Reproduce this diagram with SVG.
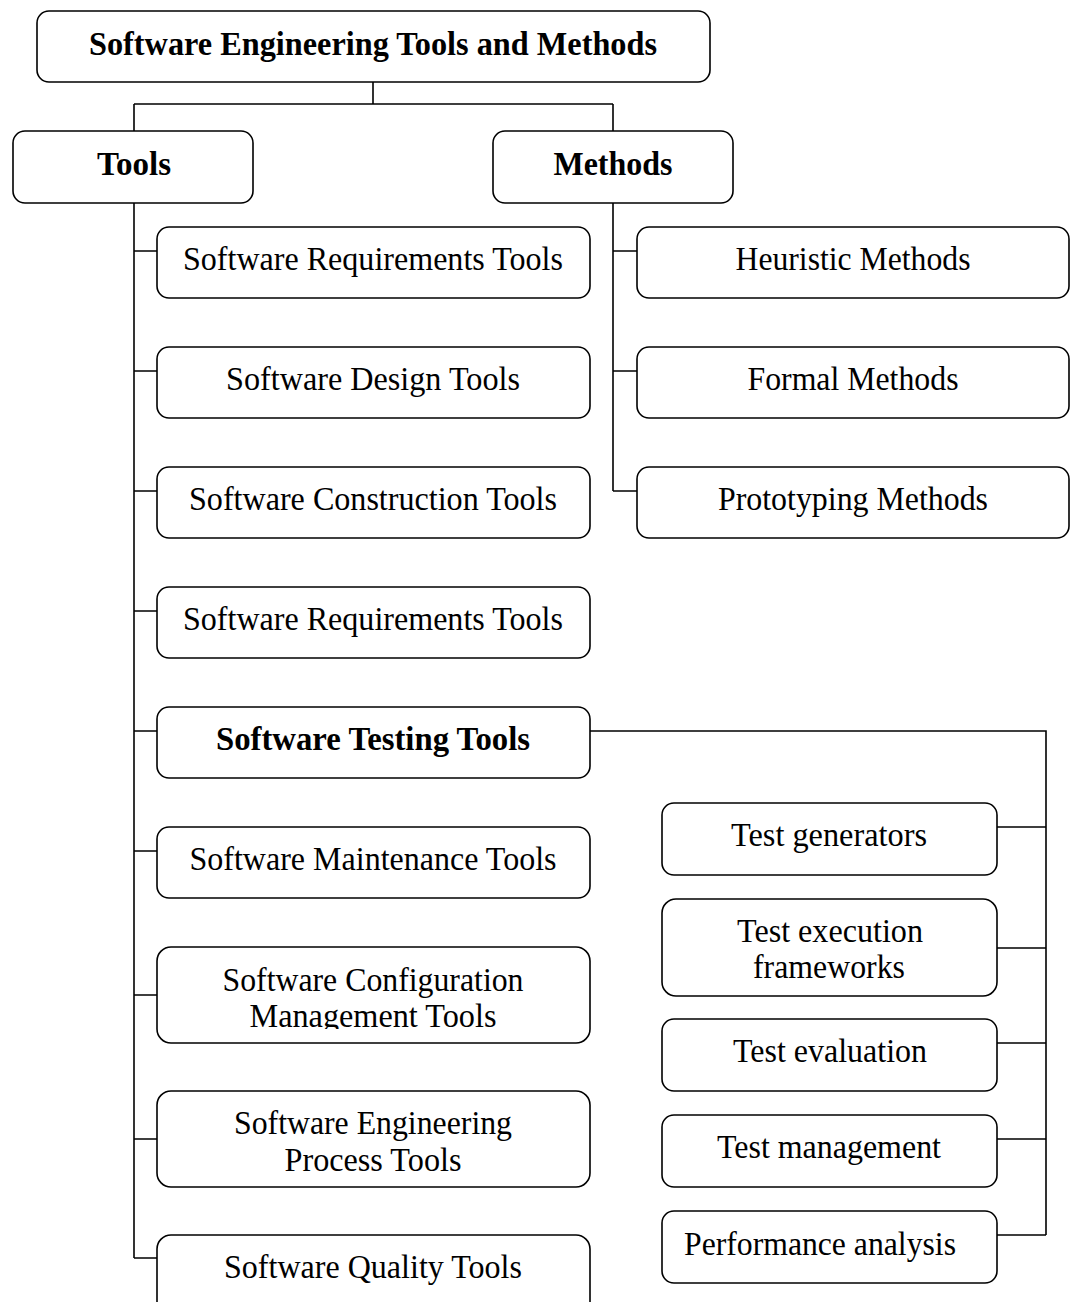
<svg xmlns="http://www.w3.org/2000/svg" width="1071" height="1302" viewBox="0 0 1071 1302">
  <style>
    .box { fill: #ffffff; stroke: #000000; stroke-width: 1.6; }
    .wire { fill: none; stroke: #000000; stroke-width: 1.6; }
    text { font-family: "Liberation Serif", "Times New Roman", serif; font-size: 34px; fill: #000000; text-anchor: middle; }
    .b { font-weight: bold; }
  </style>
  <defs>
    <clipPath id="cfgClip"><rect x="150" y="940" width="450" height="89"/></clipPath>
  </defs>

  <!-- connectors -->
  <g id="connectors" class="wire">
    <path d="M373,82 V104 M134,104 H613 M134,104 V131 M613,104 V131"/>
    <path d="M134,203 V1258"/>
    <path d="M134,251 H157 M134,371 H157 M134,491 H157 M134,611 H157 M134,731 H157 M134,851 H157 M134,995 H157 M134,1139 H157 M134,1258 H157"/>
    <path d="M613,203 V491 M613,251 H637 M613,371 H637 M613,491 H637"/>
    <path d="M590,731 H1046 V1235"/>
    <path d="M997,827 H1046 M997,948 H1046 M997,1043 H1046 M997,1139 H1046 M997,1235 H1046"/>
  </g>

  <!-- root -->
  <g id="root">
    <rect class="box" x="37" y="11" width="673" height="71" rx="12"/>
    <text class="b" x="373" y="55" textLength="568" lengthAdjust="spacingAndGlyphs">Software Engineering Tools and Methods</text>
  </g>

  <g id="tools">
    <rect class="box" x="13" y="131" width="240" height="72" rx="12"/>
    <text class="b" x="134" y="175" textLength="74" lengthAdjust="spacingAndGlyphs">Tools</text>
  </g>
  <g id="methods">
    <rect class="box" x="493" y="131" width="240" height="72" rx="12"/>
    <text class="b" x="613" y="175" textLength="119" lengthAdjust="spacingAndGlyphs">Methods</text>
  </g>

  <!-- tool categories -->
  <g id="req-tools">
    <rect class="box" x="157" y="227" width="433" height="71" rx="12"/>
    <text x="373" y="270" textLength="380" lengthAdjust="spacingAndGlyphs">Software Requirements Tools</text>
  </g>
  <g id="design-tools">
    <rect class="box" x="157" y="347" width="433" height="71" rx="12"/>
    <text x="373" y="390" textLength="294" lengthAdjust="spacingAndGlyphs">Software Design Tools</text>
  </g>
  <g id="construction-tools">
    <rect class="box" x="157" y="467" width="433" height="71" rx="12"/>
    <text x="373" y="510" textLength="368" lengthAdjust="spacingAndGlyphs">Software Construction Tools</text>
  </g>
  <g id="req-tools-2">
    <rect class="box" x="157" y="587" width="433" height="71" rx="12"/>
    <text x="373" y="630" textLength="380" lengthAdjust="spacingAndGlyphs">Software Requirements Tools</text>
  </g>
  <g id="testing-tools">
    <rect class="box" x="157" y="707" width="433" height="71" rx="12"/>
    <text class="b" x="373" y="750" textLength="314" lengthAdjust="spacingAndGlyphs">Software Testing Tools</text>
  </g>
  <g id="maintenance-tools">
    <rect class="box" x="157" y="827" width="433" height="71" rx="12"/>
    <text x="373" y="870" textLength="367" lengthAdjust="spacingAndGlyphs">Software Maintenance Tools</text>
  </g>
  <g id="config-tools">
    <rect class="box" x="157" y="947" width="433" height="96" rx="14"/>
    <g clip-path="url(#cfgClip)">
      <text x="373" y="991" textLength="301" lengthAdjust="spacingAndGlyphs">Software Configuration</text>
      <text x="373" y="1027" textLength="247" lengthAdjust="spacingAndGlyphs">Management Tools</text>
    </g>
  </g>
  <g id="process-tools">
    <rect class="box" x="157" y="1091" width="433" height="96" rx="14"/>
    <text x="373" y="1134" textLength="278" lengthAdjust="spacingAndGlyphs">Software Engineering</text>
    <text x="373" y="1171" textLength="177" lengthAdjust="spacingAndGlyphs">Process Tools</text>
  </g>
  <g id="quality-tools">
    <rect class="box" x="157" y="1235" width="433" height="90" rx="14"/>
    <text x="373" y="1278" textLength="298" lengthAdjust="spacingAndGlyphs">Software Quality Tools</text>
  </g>

  <!-- method categories -->
  <g id="heuristic">
    <rect class="box" x="637" y="227" width="432" height="71" rx="12"/>
    <text x="853" y="270" textLength="235" lengthAdjust="spacingAndGlyphs">Heuristic Methods</text>
  </g>
  <g id="formal">
    <rect class="box" x="637" y="347" width="432" height="71" rx="12"/>
    <text x="853" y="390" textLength="211" lengthAdjust="spacingAndGlyphs">Formal Methods</text>
  </g>
  <g id="prototyping">
    <rect class="box" x="637" y="467" width="432" height="71" rx="12"/>
    <text x="853" y="510" textLength="270" lengthAdjust="spacingAndGlyphs">Prototyping Methods</text>
  </g>

  <!-- testing tool kinds -->
  <g id="test-generators">
    <rect class="box" x="662" y="803" width="335" height="72" rx="12"/>
    <text x="829" y="846" textLength="196" lengthAdjust="spacingAndGlyphs">Test generators</text>
  </g>
  <g id="test-execution">
    <rect class="box" x="662" y="899" width="335" height="97" rx="14"/>
    <text x="830" y="942" textLength="186" lengthAdjust="spacingAndGlyphs">Test execution</text>
    <text x="829" y="978" textLength="152" lengthAdjust="spacingAndGlyphs">frameworks</text>
  </g>
  <g id="test-evaluation">
    <rect class="box" x="662" y="1019" width="335" height="72" rx="12"/>
    <text x="830" y="1062" textLength="194" lengthAdjust="spacingAndGlyphs">Test evaluation</text>
  </g>
  <g id="test-management">
    <rect class="box" x="662" y="1115" width="335" height="72" rx="12"/>
    <text x="829" y="1158" textLength="224" lengthAdjust="spacingAndGlyphs">Test management</text>
  </g>
  <g id="performance-analysis">
    <rect class="box" x="662" y="1211" width="335" height="72" rx="12"/>
    <text x="820" y="1255" textLength="272" lengthAdjust="spacingAndGlyphs">Performance analysis</text>
  </g>
</svg>
